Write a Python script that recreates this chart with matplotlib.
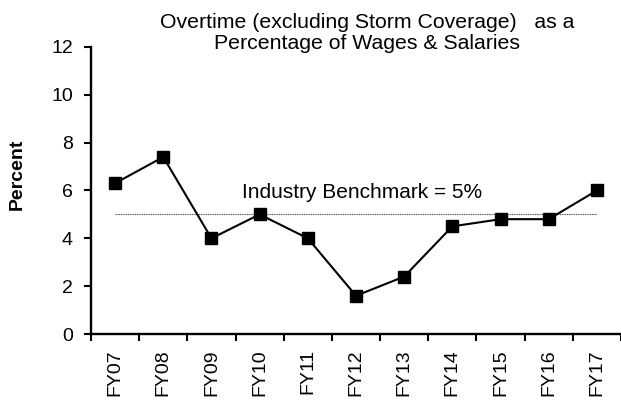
import numpy as np
import matplotlib.pyplot as plt

plt.rcParams['font.family'] = ['Liberation Sans', 'DejaVu Sans']

years = ['FY07', 'FY08', 'FY09', 'FY10', 'FY11', 'FY12', 'FY13', 'FY14', 'FY15', 'FY16', 'FY17']
overtime_pct = [6.3, 7.4, 4.0, 5.0, 4.0, 1.6, 2.4, 4.5, 4.8, 4.8, 6.0]
benchmark = 5
y_ticks = [0, 2, 4, 6, 8, 10, 12]

fig = plt.figure(figsize=(6.21, 4.01), dpi=100)
ax = fig.add_axes([0.1465, 0.167, 0.8535, 0.716])

x = np.arange(len(years))
ax.plot(x, [benchmark] * len(years), color='#555555', lw=0.8, ls=(0, (1, 0.6)))
ax.plot(x, overtime_pct, color='black', lw=1.5, marker='s', ms=8.8,
        markerfacecolor='black', markeredgecolor='black', clip_on=False)

ax.text(5.13, 5.7, 'Industry Benchmark = %d%%' % benchmark,
        ha='center', va='baseline', fontsize=15)

ax.set_xlim(-0.5, len(years) - 0.5)
ax.set_ylim(0, 12)
ax.set_yticks(y_ticks)
ax.set_xticks(x)
ax.set_xticklabels(years, rotation=90)
ax.set_xticks(np.arange(len(years) + 1) - 0.5, minor=True)
ax.tick_params(axis='x', which='major', length=0, pad=11, labelsize=14)
ax.tick_params(axis='x', which='minor', length=5, width=1.5, direction='out')
ax.tick_params(axis='y', length=5, width=1.5, direction='out', labelsize=14, pad=8)

for s in ['top', 'right']:
    ax.spines[s].set_visible(False)
for s in ['left', 'bottom']:
    ax.spines[s].set_linewidth(1.7)

fig.text(0.027, 0.566, 'Percent', rotation=90, ha='center', va='center',
         fontsize=14, fontweight='bold')

fig.text(0.591, 0.968, 'Overtime (excluding Storm Coverage)   as a\nPercentage of Wages & Salaries',
         ha='center', va='top', fontsize=15.3, linespacing=1.12)

fig.savefig('out.png', dpi=100)
